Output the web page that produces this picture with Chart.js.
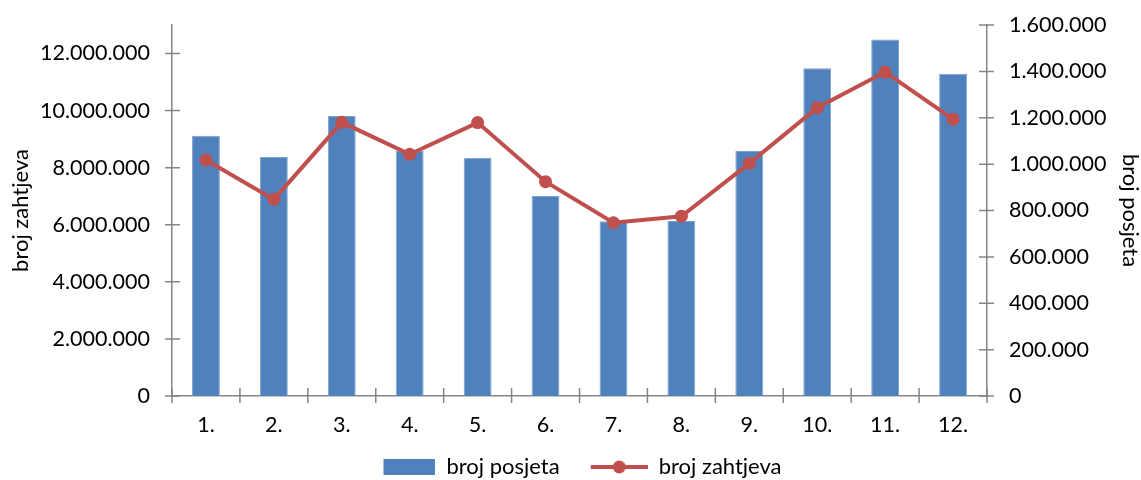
<!DOCTYPE html>
<html lang="hr">
<head>
<meta charset="UTF-8">
<title>broj posjeta / broj zahtjeva</title>
<style>
  body { margin: 0; background: #fff; }
  #wrap { width: 1141px; height: 480px; }
</style>
</head>
<body>
<div id="wrap"><canvas id="chart" width="1141" height="480"></canvas></div>
<script src="https://cdn.jsdelivr.net/npm/chart.js"></script>
<script>
// podaci
const mjeseci = ['1.', '2.', '3.', '4.', '5.', '6.', '7.', '8.', '9.', '10.', '11.', '12.'];
const brojPosjeta = [1122000, 1031000, 1208000, 1057000, 1027000, 862000, 754000, 755000, 1057000, 1413000, 1538000, 1390000];
const brojZahtjeva = [8270000, 6890000, 9590000, 8470000, 9580000, 7510000, 6070000, 6300000, 8150000, 10100000, 11350000, 9700000];
const lijeviTicks = [0, 2000000, 4000000, 6000000, 8000000, 10000000, 12000000];
const desniTicks = [0, 200000, 400000, 600000, 800000, 1000000, 1200000, 1400000, 1600000];

const PLAVA = '#4F81BD';
const CRVENA = '#C0504D';
const SIVA = '#868686';
const IKONA_W = 88;

Chart.defaults.font.family = 'Lato, "Open Sans", sans-serif';
Chart.defaults.font.size = 21.5;
Chart.defaults.color = '#000';

function fmt(v) {
  return String(v).replace(/\B(?=(\d{3})+(?!\d))/g, '.');
}

// sličice za legendu, iste širine, prozirni razmak lijevo
function boxIcon() {
  const c = document.createElement('canvas');
  c.width = IKONA_W; c.height = 16;
  const g = c.getContext('2d');
  g.fillStyle = PLAVA;
  g.fillRect(IKONA_W - 52, 0, 52, 16);
  return c;
}
function lineIcon() {
  const c = document.createElement('canvas');
  c.width = IKONA_W; c.height = 16;
  const g = c.getContext('2d');
  g.strokeStyle = CRVENA;
  g.lineWidth = 4;
  g.beginPath(); g.moveTo(IKONA_W - 57, 8); g.lineTo(IKONA_W, 8); g.stroke();
  g.fillStyle = CRVENA;
  g.beginPath(); g.arc(IKONA_W - 28.5, 8, 6.5, 0, Math.PI * 2); g.fill();
  return c;
}

// kvačice koje presijecaju os (kao u Excelu)
const crossTicks = {
  id: 'crossTicks',
  beforeDatasetsDraw(chart) {
    const ctx = chart.ctx;
    const { x, y, y1 } = chart.scales;
    ctx.save();
    ctx.strokeStyle = SIVA;
    ctx.lineWidth = 1.5;
    ctx.beginPath();
    y.ticks.forEach(t => {
      const py = y.getPixelForValue(t.value);
      ctx.moveTo(y.right - 7, py); ctx.lineTo(y.right + 8, py);
    });
    y1.ticks.forEach(t => {
      const py = y1.getPixelForValue(t.value);
      ctx.moveTo(y1.left - 8, py); ctx.lineTo(y1.left + 7, py);
    });
    const n = mjeseci.length;
    for (let i = 0; i <= n; i++) {
      const px = x.left + i * x.width / n;
      ctx.moveTo(px, x.top - 8); ctx.lineTo(px, x.top + 7);
    }
    ctx.stroke();
    ctx.restore();
  }
};

function fixY(width) {
  return s => {
    s.width = width;
    s.paddingTop = 0;
    s.paddingBottom = 0;
  };
}

new Chart(document.getElementById('chart'), {
  data: {
    labels: mjeseci,
    datasets: [
      {
        type: 'bar',
        label: 'broj posjeta',
        data: brojPosjeta,
        yAxisID: 'y1',
        backgroundColor: PLAVA,
        borderColor: '#7FA2CF',
        borderWidth: 1,
        barPercentage: 0.41,
        categoryPercentage: 1,
        order: 2
      },
      {
        type: 'line',
        label: 'broj zahtjeva',
        data: brojZahtjeva,
        yAxisID: 'y',
        borderColor: CRVENA,
        backgroundColor: CRVENA,
        borderWidth: 4,
        pointRadius: 6.5,
        pointBorderWidth: 0,
        pointBackgroundColor: CRVENA,
        tension: 0,
        order: 1
      }
    ]
  },
  options: {
    responsive: false,
    animation: false,
    layout: { padding: { top: 25, left: 0, right: 12, bottom: -8 } },
    plugins: {
      tooltip: { enabled: false },
      legend: {
        position: 'bottom',
        labels: {
          usePointStyle: true,
          pointStyleWidth: IKONA_W,
          padding: 0,
          font: { size: 22 },
          generateLabels() {
            return [
              { text: 'broj posjeta', pointStyle: boxIcon(), fillStyle: PLAVA, strokeStyle: PLAVA, lineWidth: 0, datasetIndex: 0, hidden: false },
              { text: 'broj zahtjeva', pointStyle: lineIcon(), fillStyle: CRVENA, strokeStyle: CRVENA, lineWidth: 0, datasetIndex: 1, hidden: false }
            ];
          }
        }
      }
    },
    scales: {
      x: {
        position: 'bottom',
        grid: { display: false, drawTicks: false },
        border: { color: SIVA, width: 1.5 },
        ticks: { padding: 16, maxRotation: 0 },
        afterFit(s) { s.height = 60; }
      },
      y: {
        position: 'left',
        min: 0,
        max: 13000000,
        grid: { display: false, drawTicks: false },
        border: { color: SIVA, width: 1.5 },
        afterBuildTicks(s) { s.ticks = lijeviTicks.map(v => ({ value: v })); },
        ticks: { padding: 22, callback: v => fmt(v) },
        title: { display: true, text: 'broj zahtjeva', font: { size: 22 }, padding: { top: 8, bottom: 0 } },
        afterFit: fixY(172)
      },
      y1: {
        position: 'right',
        min: 0,
        max: 1600000,
        grid: { display: false, drawTicks: false },
        border: { color: SIVA, width: 1.5 },
        afterBuildTicks(s) { s.ticks = desniTicks.map(v => ({ value: v })); },
        ticks: { padding: 22, callback: v => fmt(v) },
        title: { display: true, text: 'broj posjeta', font: { size: 22 }, padding: { top: -14, bottom: 0 } },
        afterFit: fixY(142)
      }
    }
  },
  plugins: [crossTicks]
});
</script>
</body>
</html>
